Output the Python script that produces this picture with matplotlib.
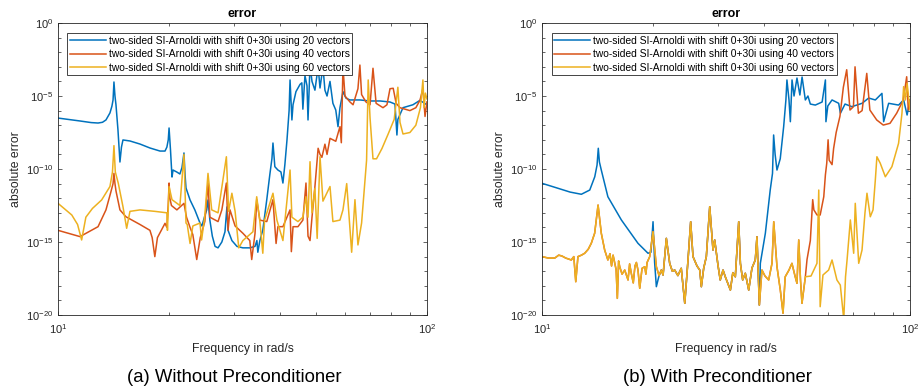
import numpy as np
import matplotlib
matplotlib.use("Agg")
import matplotlib.pyplot as plt
from matplotlib.ticker import FixedLocator, LogLocator, NullFormatter

plt.rcParams['font.family'] = ['Liberation Sans', 'DejaVu Sans']
plt.rcParams['axes.unicode_minus'] = False

# legend labels and MATLAB default colours
labels = ["two-sided SI-Arnoldi with shift 0+30i using 20 vectors",
          "two-sided SI-Arnoldi with shift 0+30i using 40 vectors",
          "two-sided SI-Arnoldi with shift 0+30i using 60 vectors"]
colors = ['#0072BD', '#D95319', '#EDB120']
captions = ["(a) Without Preconditioner", "(b) With Preconditioner"]

# (frequency rad/s, log10 absolute error)
# --- (a) without preconditioner
blue_a = [(10.0, -6.51), (11.47, -6.71), (12.3, -6.82), (12.84, -6.85), (13.2, -6.8),
          (13.49, -6.64), (13.83, -6.16), (14.0, -5.7), (14.10, -5.27), (14.18, -4.04),
          (14.27, -5.0), (14.36, -5.6), (14.54, -7.33), (14.72, -9.52), (14.86, -8.5),
          (15.0, -8.01), (15.67, -8.08), (16.68, -8.29), (17.75, -8.56), (18.9, -8.77),
          (19.5, -8.77), (19.73, -8.5), (19.9, -8.0), (20.0, -7.19), (20.18, -8.7),
          (20.37, -10.55), (20.5, -10.07), (21.0, -10.21), (21.4, -10.34), (21.68, -9.9),
          (21.95, -8.9), (22.1, -10.41), (22.23, -11.3), (22.8, -12.12), (23.5, -12.81),
          (24.26, -13.7), (24.55, -13.9), (25.0, -13.2), (25.3, -12.8), (25.5, -12.12),
          (25.8, -13.5), (26.2, -14.6), (26.65, -15.3), (27.15, -15.4), (27.8, -15.0),
          (28.35, -14.3), (28.7, -12.6), (28.9, -14.2), (29.6, -14.9), (30.55, -15.3),
          (31.7, -15.4), (33.1, -15.4), (34.2, -15.3), (34.6, -14.9), (34.8, -15.7),
          (35.25, -14.9), (35.9, -14.18), (36.8, -12.1), (37.5, -10.4), (38.0, -9.3),
          (38.25, -8.22), (38.7, -9.84), (39.45, -10.07), (40.2, -10.2), (40.7, -10.96),
          (41.2, -9.7), (41.75, -8.0), (42.3, -6.0), (42.55, -3.9), (43.05, -6.64),
          (43.35, -5.6), (44.15, -4.7), (45.3, -4.2), (45.8, -4.1), (46.1, -5.9),
          (46.7, -3.6), (47.3, -4.3), (47.6, -6.64), (48.2, -2.9), (48.8, -4.0),
          (49.7, -4.6), (50.7, -3.0), (51.3, -4.45), (52.25, -3.0), (52.9, -4.6),
          (53.6, -5.0), (54.6, -4.0), (55.6, -5.5), (56.6, -5.96), (57.4, -7.1),
          (58.1, -5.8), (59.2, -4.7), (60.3, -5.14), (61.8, -5.27), (65.8, -5.27),
          (70.1, -5.34), (74.6, -5.34), (79.4, -5.41), (81.9, -5.55), (82.9, -7.67),
          (83.4, -6.6), (86.1, -5.8), (91.6, -5.6), (95.7, -5.3), (100.0, -5.6)]

orange_a = [(10.0, -14.2), (11.47, -14.63), (12.84, -13.95), (13.49, -12.8), (13.9, -11.6),
            (14.1, -11.0), (14.18, -10.3), (14.27, -11.0), (14.36, -11.5), (14.72, -12.8),
            (15.28, -13.27), (16.68, -13.8), (17.75, -14.2), (18.0, -14.7), (18.3, -16.0),
            (18.6, -14.7), (19.5, -13.72), (19.73, -14.0), (19.9, -12.4), (20.0, -10.96),
            (20.1, -12.0), (20.3, -12.5), (21.0, -12.8), (21.95, -12.35), (22.3, -13.3),
            (22.8, -14.0), (23.2, -14.5), (23.77, -16.2), (24.3, -14.7), (25.0, -13.6),
            (25.5, -10.96), (25.8, -13.3), (27.15, -13.6), (27.8, -12.8), (28.6, -10.96),
            (28.9, -14.2), (29.25, -12.8), (30.2, -13.9), (31.7, -14.4), (33.1, -14.9),
            (33.5, -16.2), (34.2, -14.4), (34.56, -12.1), (35.25, -13.5), (36.8, -13.6),
            (38.25, -12.1), (38.7, -13.95), (39.0, -15.1), (39.45, -13.95), (40.7, -13.95),
            (42.55, -12.8), (42.9, -15.66), (43.35, -13.95), (44.7, -13.95), (46.1, -13.5),
            (47.0, -10.96), (47.6, -14.6), (48.2, -14.9), (48.8, -13.3), (49.7, -11.2),
            (50.7, -8.58), (51.3, -9.0), (51.9, -9.2), (52.9, -8.3), (53.6, -9.0),
            (54.6, -7.9), (55.6, -8.0), (56.6, -8.1), (58.1, -7.1), (58.6, -8.2),
            (59.2, -3.0), (59.95, -5.0), (61.8, -5.4), (63.05, -5.6), (65.0, -4.5),
            (65.8, -2.88), (66.5, -4.9), (68.3, -5.4), (70.1, -5.6), (71.4, -3.1),
            (72.8, -5.5), (76.0, -5.8), (77.9, -5.6), (79.4, -4.5), (81.0, -4.47),
            (82.5, -5.5), (84.5, -5.8), (89.9, -6.0), (93.3, -5.8), (95.7, -5.3),
            (97.5, -4.5), (98.8, -6.4), (100.0, -5.4)]

yellow_a = [(10.0, -12.35), (10.9, -13.15), (11.3, -13.8), (11.59, -14.86), (11.9, -13.3),
            (12.4, -12.7), (13.13, -12.12), (13.83, -11.2), (14.05, -10.2), (14.18, -8.4),
            (14.3, -10.2), (14.57, -10.98), (15.0, -12.58), (15.35, -14.06), (15.67, -12.9),
            (16.68, -12.8), (18.3, -12.9), (19.73, -13.0), (19.8, -14.2), (20.0, -11.2),
            (20.37, -12.1), (21.4, -12.5), (21.95, -9.0), (22.23, -13.7), (22.4, -13.8),
            (22.8, -15.1), (23.2, -13.9), (24.26, -13.7), (24.5, -14.86), (25.0, -13.2),
            (25.5, -10.3), (26.1, -12.8), (27.15, -13.0), (28.6, -9.16), (29.0, -12.9),
            (29.6, -11.66), (30.2, -12.9), (30.9, -15.4), (31.7, -14.9), (33.75, -14.3),
            (34.56, -11.9), (35.25, -13.6), (35.9, -15.77), (36.3, -13.5), (38.25, -11.66),
            (39.2, -13.5), (40.7, -14.9), (42.55, -10.07), (43.05, -13.3), (44.7, -13.6),
            (46.1, -13.3), (47.0, -11.9), (47.6, -13.3), (48.2, -9.5), (48.8, -13.0),
            (49.7, -11.32), (50.4, -14.75), (51.3, -9.16), (52.25, -12.2), (54.6, -11.2),
            (55.6, -13.6), (58.1, -13.5), (59.2, -12.8), (60.6, -11.0), (62.5, -15.7),
            (63.8, -12.1), (65.0, -15.2), (66.5, -13.7), (68.6, -9.4), (69.3, -3.9),
            (70.1, -6.5), (71.4, -9.3), (73.0, -9.3), (75.5, -8.6), (78.5, -7.6),
            (81.5, -6.6), (83.4, -4.4), (84.5, -6.8), (86.1, -7.6), (89.9, -7.5),
            (93.3, -7.0), (96.0, -5.8), (97.5, -3.9), (98.2, -5.8), (99.0, -4.8),
            (100.0, -5.2)]

# --- (b) with preconditioner
# round-off floor shared by all three runs (drawn by the 60-vector run)
floor_b = [(10.0, -16.0), (10.4, -16.1), (10.83, -16.1), (11.1, -15.9), (11.33, -15.96),
           (11.6, -16.1), (12.01, -16.23), (12.2, -16.0), (12.35, -17.72), (12.52, -16.0),
           (12.8, -15.9), (13.06, -15.77), (13.35, -15.5), (13.61, -15.09), (13.9, -14.4),
           (14.2, -12.47), (14.49, -14.4), (14.8, -15.55), (15.1, -16.23), (15.3, -15.8),
           (15.45, -16.64), (15.6, -15.9), (15.74, -16.37), (15.9, -16.9), (16.02, -18.86),
           (16.15, -16.3), (16.26, -16.69), (16.5, -17.2), (16.78, -16.92), (17.13, -17.6),
           (17.3, -16.5), (17.48, -17.14), (17.7, -17.8), (17.89, -16.64), (18.05, -16.4),
           (18.23, -16.92), (18.43, -18.17), (18.7, -16.8), (19.02, -16.69), (19.15, -17.2),
           (19.3, -16.4), (19.62, -16.0), (20.03, -14.29), (20.45, -16.69), (20.8, -17.3),
           (21.1, -16.92), (21.33, -17.26), (21.77, -14.75), (22.23, -16.46), (22.6, -17.0),
           (22.94, -16.92), (23.4, -17.3), (23.9, -16.8), (24.43, -19.2), (24.93, -16.23),
           (25.35, -13.61), (25.72, -16.0), (26.37, -16.64), (26.83, -16.92), (27.1, -18.06),
           (27.5, -16.8), (27.96, -16.0), (28.56, -12.58), (29.15, -15.55), (29.46, -14.86),
           (30.07, -16.58), (30.5, -17.6), (31.04, -16.92), (31.48, -17.38), (32.5, -18.29),
           (33.0, -17.1), (33.52, -17.38), (34.24, -13.61), (34.6, -16.46), (35.1, -17.6),
           (35.68, -17.14), (36.45, -18.29), (37.2, -16.78), (37.98, -16.23), (38.38, -14.64),
           (38.96, -19.32), (39.6, -16.92), (40.36, -17.33), (41.3, -17.6), (42.17, -16.46),
           (42.63, -13.61), (43.5, -16.69), (44.42, -18.29), (45.18, -19.88), (45.8, -17.38),
           (46.9, -16.92), (47.77, -16.46), (48.7, -17.33), (49.3, -17.83), (49.85, -14.86),
           (50.4, -17.6), (50.87, -19.2), (51.95, -17.38), (53.83, -17.33), (55.87, -16.46),
           (56.5, -11.44), (57.0, -19.43), (58.0, -17.26), (60.1, -16.92), (61.4, -16.23),
           (63.3, -17.6), (64.66, -17.95), (66.07, -20.3), (66.8, -17.38), (67.45, -16.23),
           (68.85, -13.49), (70.3, -15.77), (71.0, -12.35), (72.55, -16.46), (74.07, -15.55),
           (75.45, -13.0), (76.4, -11.66), (78.0, -13.27), (79.35, -12.8), (80.5, -10.75),
           (81.3, -9.16), (83.0, -9.6), (85.7, -10.53), (89.3, -9.84), (93.1, -8.24),
           (95.1, -6.18), (96.1, -4.36), (97.2, -5.27), (98.2, -4.13), (100.0, -5.96)]

blue_b_start = [(10.0, -10.98), (11.05, -11.32), (11.92, -11.58), (12.79, -11.73),
                (13.48, -11.44), (13.91, -10.53), (14.11, -9.73), (14.22, -8.58),
                (14.32, -9.52), (14.49, -10.07), (15.1, -11.9), (16.43, -13.49),
                (18.23, -15.09), (19.41, -15.77), (19.77, -15.7), (20.03, -13.61),
                (20.23, -16.4), (20.45, -18.06)]
blue_b_end = [(39.2, -16.46), (40.45, -14.4), (41.7, -11.44), (42.3, -10.3), (42.6, -7.67),
              (43.0, -9.0), (43.5, -10.07), (44.4, -9.3), (45.36, -7.1), (46.0, -5.27),
              (46.3, -3.9), (46.9, -5.27), (47.3, -6.76), (47.8, -3.9), (48.4, -5.0),
              (49.3, -3.77), (50.2, -4.93), (50.9, -3.7), (51.95, -5.27), (52.8, -5.0),
              (53.6, -5.55), (55.3, -5.62), (57.7, -5.41), (58.9, -3.9), (59.1, -6.76),
              (59.8, -5.68), (61.4, -5.27), (64.0, -5.5), (64.7, -6.18), (66.6, -5.55),
              (69.5, -5.73), (74.1, -5.5), (77.2, -5.14), (80.5, -5.27), (83.9, -4.82),
              (84.8, -6.76), (87.5, -5.5), (93.1, -5.62), (96.1, -5.27), (98.2, -6.3),
              (100.0, -5.27)]
orange_b_end = [(51.95, -17.4), (52.5, -16.2), (53.6, -14.9), (54.4, -12.1), (54.8, -12.8),
                (55.9, -13.15), (57.0, -13.15), (58.3, -11.9), (58.9, -10.4), (59.4, -9.6),
                (59.9, -8.0), (60.3, -9.4), (61.4, -9.7), (62.0, -8.6), (63.0, -7.5),
                (64.5, -6.4), (65.9, -4.4), (67.3, -3.2), (68.7, -5.96), (70.2, -5.73),
                (70.9, -3.0), (72.4, -6.18), (74.1, -6.0), (76.3, -3.45), (77.8, -5.96),
                (81.2, -6.64), (84.6, -6.99), (88.25, -6.87), (92.0, -6.18), (95.9, -5.27),
                (97.95, -3.68), (98.95, -5.96), (100.0, -5.27)]

blue_b = blue_b_start + [p for p in floor_b if 20.45 < p[0] < 39.2] + blue_b_end
orange_b = [p for p in floor_b if p[0] < 51.95] + orange_b_end
yellow_b = floor_b

fig = plt.figure(figsize=(9.19, 3.92), dpi=100)
ax_a = fig.add_axes([0.0631, 0.1964, 0.4015, 0.7449])
ax_b = fig.add_axes([0.5898, 0.1964, 0.4004, 0.7449])
grey = '#262626'


def draw(ax, series, leg_x, caption, cap_x):
    for data, c, lab in zip(series, colors, labels):
        f, e = zip(*data)
        ax.plot(f, 10.0 ** np.array(e), color=c, lw=1.1, label=lab)
    ax.set_xscale('log')
    ax.set_yscale('log')
    ax.set_xlim(10, 100)
    ax.set_ylim(1e-20, 1)
    ax.yaxis.set_major_locator(FixedLocator([1e-20, 1e-15, 1e-10, 1e-5, 1]))
    ax.yaxis.set_minor_locator(FixedLocator(10.0 ** np.arange(-20, 1)))
    ax.yaxis.set_minor_formatter(NullFormatter())
    ax.xaxis.set_minor_locator(LogLocator(base=10, subs=np.arange(2, 10)))
    ax.xaxis.set_minor_formatter(NullFormatter())
    ax.tick_params(which='both', direction='in', top=True, right=True,
                   color=grey, labelcolor=grey, labelsize=8, width=0.5)
    ax.tick_params(which='major', length=3)
    ax.tick_params(which='minor', length=2)
    ax.tick_params(axis='x', pad=5)
    for s in ax.spines.values():
        s.set_color(grey)
        s.set_linewidth(0.6)
    ax.set_title('error', fontweight='bold', fontsize=9, pad=4, color='black')
    ax.set_xlabel('Frequency in rad/s', fontsize=8.8, color=grey, labelpad=5)
    ax.set_ylabel('absolute error', fontsize=8.8, color=grey, labelpad=3)
    leg = ax.legend(loc='upper left', bbox_to_anchor=(leg_x, 0.9658), borderaxespad=0,
                    fontsize=7.4, frameon=True, fancybox=False, framealpha=1,
                    edgecolor=grey, handlelength=3.5, handletextpad=0.3,
                    borderpad=0.25, labelspacing=0.35)
    leg.get_frame().set_linewidth(0.6)
    fig.text(cap_x, 0.036, caption, fontsize=13.3, ha='center', va='center')


draw(ax_a, [blue_a, orange_a, yellow_a], 0.0244, captions[0], 0.2546)
draw(ax_b, [blue_b, orange_b, yellow_b], 0.0263, captions[1], 0.7807)

fig.savefig('out.png', dpi=100)
